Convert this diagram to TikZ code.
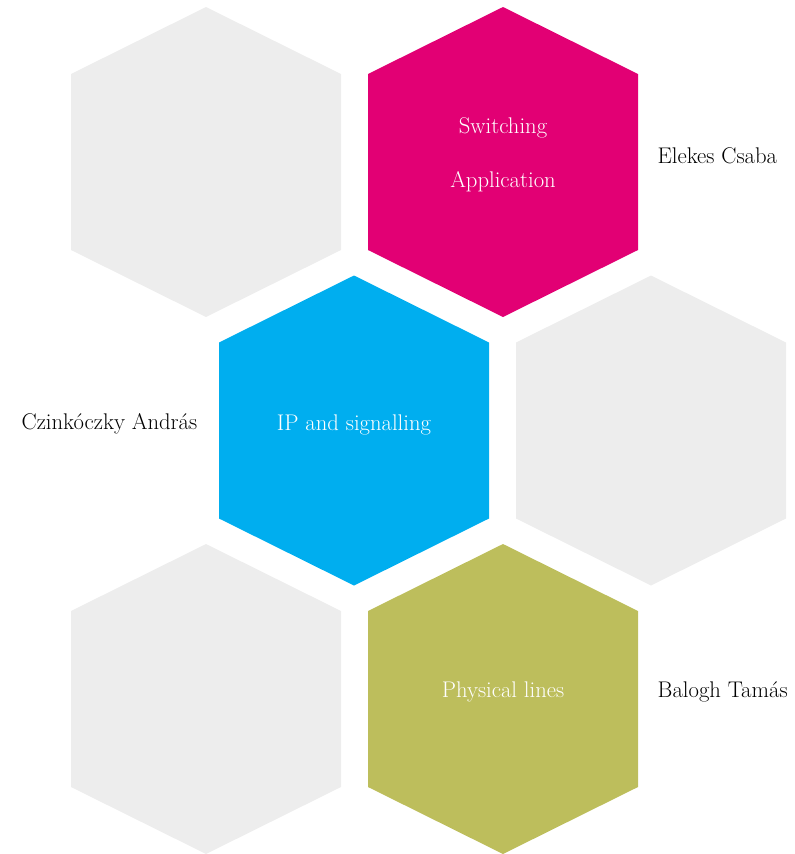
\documentclass[tikz,border=0pt]{standalone}
\usepackage{tikz}

\definecolor{hexgray}{HTML}{EDEDED}
\definecolor{hexmagenta}{HTML}{E20074}
\definecolor{hexblue}{HTML}{00AEEF}
\definecolor{hexolive}{HTML}{BDBE5C}

% one hexagon cell: name, centre, colour
\newcommand{\hexcell}[3]{%
  \fill[#3] ($(#2)+(0,-155)$) -- ($(#2)+(135,-88)$) -- ($(#2)+(135,88)$)
    -- ($(#2)+(0,155)$) -- ($(#2)+(-135,88)$) -- ($(#2)+(-135,-88)$) -- cycle;
  \coordinate (#1) at (#2);}

\usetikzlibrary{calc}

\begin{document}
\begin{tikzpicture}[x=0.75pt,y=-0.75pt,
    celltext/.style={text=white,font=\fontsize{17}{20}\selectfont},
    person/.style={text=black,font=\fontsize{17}{20}\selectfont}]
  \useasboundingbox (0,0) rectangle (794,854);

  \hexcell{g1}{206,162}{hexgray}
  \hexcell{sw}{503,162}{hexmagenta}
  \hexcell{ip}{354,430.5}{hexblue}
  \hexcell{g2}{651,430.5}{hexgray}
  \hexcell{g3}{206,699}{hexgray}
  \hexcell{ph}{503,699}{hexolive}

  % texts inside the cells
  \node[celltext] (switching) at ($(sw)+(0,-34)$) {Switching};
  \node[celltext] (application) at ($(sw)+(0,20)$) {Application};
  \node[celltext] (signalling) at ($(ip)+(0,-6)$) {IP and signalling};
  \node[celltext] (lines) at ($(ph)+(0,-7)$) {Physical lines};

  % names beside
  \node[person,anchor=west] (elekes) at (653,156) {Elekes Csaba};
  \node[person,anchor=east] (czinkoczky) at (202,424) {Czink\'oczky Andr\'as};
  \node[person,anchor=west] (balogh) at (653,692) {Balogh Tam\'as};
\end{tikzpicture}
\end{document}
